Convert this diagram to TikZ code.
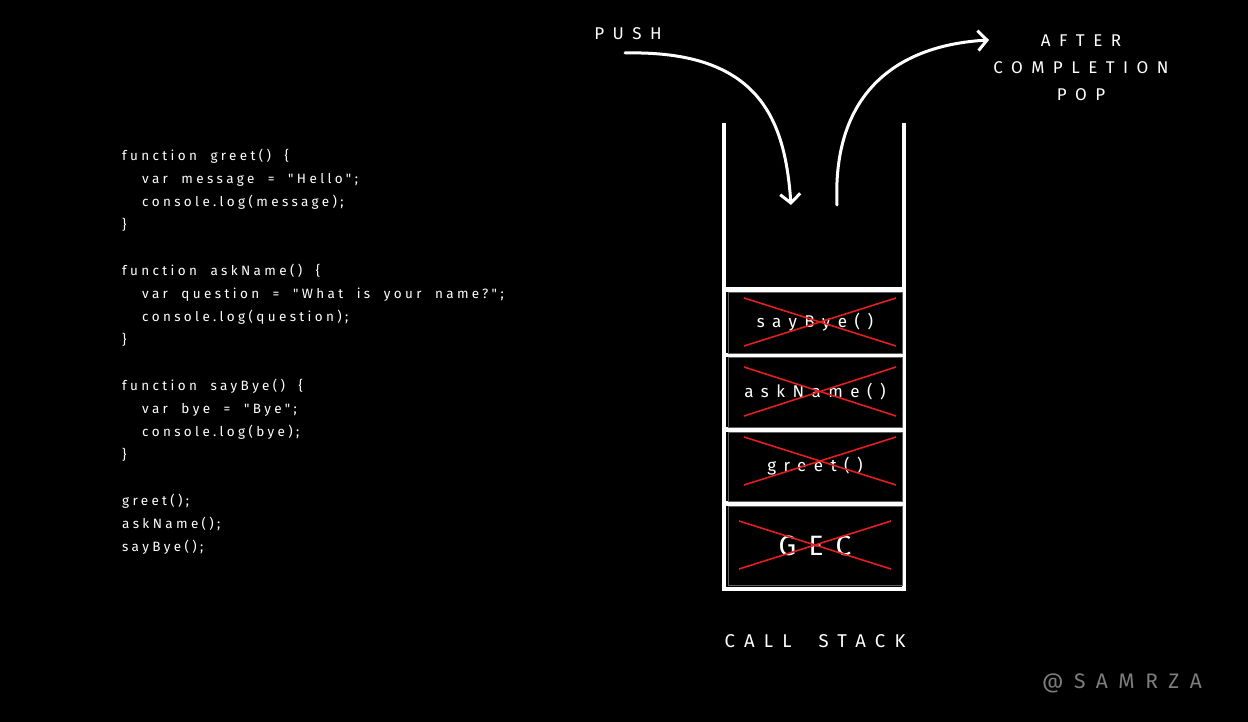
\documentclass[tikz,border=0pt]{standalone}
\usepackage{fontspec}
\setmainfont{Fira Sans}
\newfontfamily\codefont[LetterSpace=25,WordSpace=1.95]{Fira Sans}
\newfontfamily\capsfont[LetterSpace=50,WordSpace=1.9]{Fira Sans}
\newfontfamily\slotfont[LetterSpace=44]{Fira Sans}
\usetikzlibrary{arrows.meta}

\definecolor{crossred}{RGB}{226,30,30}
\definecolor{slotgray}{RGB}{95,95,95}
\definecolor{signgray}{RGB}{125,125,125}

\tikzset{
  wall/.style={white, line width=4.5pt},
  slot/.style={draw=slotgray, line width=0.8pt, minimum width=174pt, inner sep=0pt,
    text=white, font=\slotfont\fontsize{17}{20}\selectfont},
  cross/.style={crossred, line width=1.6pt},
  flow/.style={white, line width=3pt, line cap=round,
    -{Straight Barb[length=9pt,width=20pt,line width=3pt]}},
  caps/.style={text=white, inner sep=0pt, align=center,
    font=\capsfont\fontsize{17}{27}\selectfont},
  code/.style={text=white, inner sep=0pt, align=left,
    font=\codefont\fontsize{13.5}{23}\selectfont},
}

\begin{document}
\begin{tikzpicture}[x=1pt,y=1pt,yscale=-1,xscale=1]
\fill[black] (0,0) rectangle (1248,722);
\useasboundingbox (0,0) rectangle (1248,722);

% source code
\node[code, anchor=north west] (src) at (122,149) {%
function greet() \{\\
\hspace*{20pt}var message = "Hello";\\
\hspace*{20pt}console.log(message);\\
\}\\[23pt]
function askName() \{\\
\hspace*{20pt}var question = "What is your name?";\\
\hspace*{20pt}console.log(question);\\
\}\\[23pt]
function sayBye() \{\\
\hspace*{20pt}var bye = "Bye";\\
\hspace*{20pt}console.log(bye);\\
\}\\[23pt]
greet();\\
askName();\\
sayBye();};

% stack walls
\draw[wall] (724,123) -- (724,589) -- (904,589) -- (904,123);
\draw[wall] (724,289.5) -- (904,289.5);
\draw[wall] (724,355) -- (904,355);
\draw[wall] (724,429.5) -- (904,429.5);
\draw[wall] (724,503.5) -- (904,503.5);

% frames
\node[slot, minimum height=61pt] (bye) at (815,322.5) {sayBye()};
\node[slot, minimum height=70pt] (ask) at (815,392) {askName()};
\node[slot, minimum height=69pt] (greet) at (815,466.5) {greet()};
\node[slot, minimum height=79pt, font=\slotfont\fontsize{28}{32}\selectfont] (gec) at (815,545.5) {GEC};

% crossed out
\draw[cross] (744,298) -- (896,346) (744,346) -- (896,298);
\draw[cross] (744,367) -- (896,416) (744,416) -- (896,367);
\draw[cross] (744,437) -- (896,485) (744,485) -- (896,437);
\draw[cross] (739,521) -- (891,569) (739,569) -- (891,521);

% push and pop
\coordinate (pushfrom) at (625,53);
\coordinate (pushto) at (791,205);
\coordinate (popfrom) at (837,205);
\coordinate (popto) at (989,40);
\draw[flow] (pushfrom) .. controls (760,50) and (785,120) .. (pushto);
\draw[flow] (popfrom) .. controls (832,90) and (900,45) .. (popto);

% Text Node
\node[caps] (push) at (628,34) {PUSH};
\node[caps] (pop) at (1081,68) {AFTER\\COMPLETION\\POP};
\node[caps, font=\capsfont\fontsize{18.5}{22}\selectfont] (title) at (815,641) {CALL STACK};
\node[caps, text=signgray, font=\capsfont\fontsize{21}{24}\selectfont] (sign) at (1122,683) {@SAMRZA};

\end{tikzpicture}
\end{document}
